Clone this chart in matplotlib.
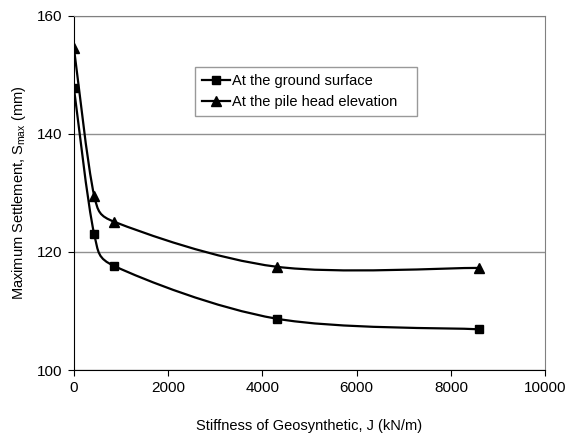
import numpy as np
import matplotlib
matplotlib.use("Agg")
import matplotlib.pyplot as plt
from matplotlib.path import Path
from matplotlib.patches import PathPatch
from matplotlib.lines import Line2D

plt.rcParams['font.family'] = ['Liberation Sans', 'DejaVu Sans']

# data
stiffness = [0, 430, 860, 4300, 8600]
ground_surface = [147.7, 123.0, 117.6, 108.7, 106.9]
pile_head = [154.5, 129.5, 125.1, 117.5, 117.3]
labels = ['At the ground surface', 'At the pile head elevation']

XLIM = (0, 10000)
YLIM = (100, 160)
ASPECT = 354 / 471  # plot area height / width in pixels


def smooth_path(x, y):
    # smoothed line like the spreadsheet one: cubic bezier through the points,
    # tangents in normalised space, control arms limited to half a segment
    xn = (np.asarray(x, float) - XLIM[0]) / (XLIM[1] - XLIM[0])
    yn = (np.asarray(y, float) - YLIM[0]) / (YLIM[1] - YLIM[0]) * ASPECT
    pts = np.column_stack([xn, yn])
    n = len(pts)
    seg = np.linalg.norm(np.diff(pts, axis=0), axis=1)
    c_in, c_out = [None] * n, [None] * n
    for i in range(n):
        a = pts[max(i - 1, 0)]
        b = pts[min(i + 1, n - 1)]
        t = b - a
        tl = np.linalg.norm(t)
        u = t / tl
        if i > 0:
            c_in[i] = pts[i] - u * min(tl / 6, seg[i - 1] * 0.5)
        if i < n - 1:
            c_out[i] = pts[i] + u * min(tl / 6, seg[i] * 0.5)
    verts = [pts[0]]
    codes = [Path.MOVETO]
    for i in range(n - 1):
        verts += [c_out[i], c_in[i + 1], pts[i + 1]]
        codes += [Path.CURVE4] * 3
    v = np.array(verts)
    v[:, 0] = v[:, 0] * (XLIM[1] - XLIM[0]) + XLIM[0]
    v[:, 1] = v[:, 1] / ASPECT * (YLIM[1] - YLIM[0]) + YLIM[0]
    return Path(v, codes)


fig = plt.figure(figsize=(5.69, 4.40), dpi=100)
ax = fig.add_axes([0.130, 0.159, 0.828, 0.805])

styles = [('s', 5.5), ('^', 6.5)]
for ys, (mk, ms) in zip([ground_surface, pile_head], styles):
    ax.add_patch(PathPatch(smooth_path(stiffness, ys), fill=False,
                           edgecolor='black', lw=1.6, zorder=3))
    ax.plot(stiffness, ys, linestyle='None', color='black',
            marker=mk, markersize=ms, zorder=4)

ax.set_xlim(*XLIM)
ax.set_ylim(*YLIM)
ax.set_xticks(range(0, 10001, 2000))
ax.set_yticks([100, 120, 140, 160])
ax.yaxis.grid(True, color='#909090', lw=1)
ax.set_axisbelow(True)

for s in ['top', 'right']:
    ax.spines[s].set_color('#808080')
for s in ['left', 'bottom']:
    ax.spines[s].set_color('black')
ax.tick_params(direction='out', length=4, labelsize=11, pad=4)

ax.set_xlabel('Stiffness of Geosynthetic, J (kN/m)', fontsize=10.5, labelpad=17)
ax.set_ylabel(r'Maximum Settlement, S$_{\mathregular{max}}$ (mm)', fontsize=10.5, labelpad=7)

handles = [Line2D([], [], color='black', lw=1.6, marker=mk, markersize=ms)
           for mk, ms in styles]
leg = ax.legend(handles, [labels[0], labels[1] + '   '],
                loc='upper left', bbox_to_anchor=(0.256, 0.855), fontsize=10.5,
                frameon=True, fancybox=False, edgecolor='#808080',
                handlelength=1.9, handletextpad=0.2, borderpad=0.5,
                labelspacing=0.45, borderaxespad=0)
leg.get_frame().set_linewidth(1)

fig.savefig('out.png', dpi=100)
